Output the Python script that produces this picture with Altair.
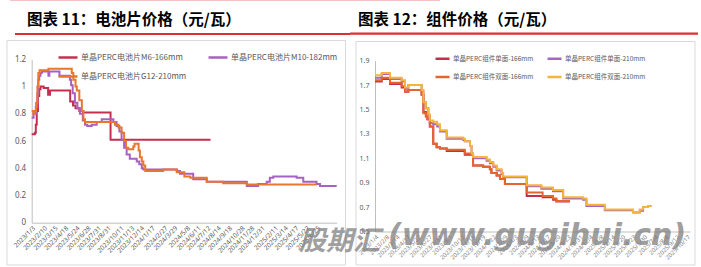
import altair as alt
import pandas as pd

# ---------------- text ----------------
title_left = "图表 11：电池片价格（元/瓦）"
title_right = "图表 12：组件价格（元/瓦）"
watermark_cn = "股期汇"
watermark_en = "(www.gugihui.cn)"

# ---------------- left chart: cell prices ----------------
cell_series = ["单晶PERC电池片M6-166mm", "单晶PERC电池片M10-182mm", "单晶PERC电池片G12-210mm"]
cell_colors = ["#C3304F", "#A860C4", "#E8762B"]

m6_dates = ["2023-01-03", "2023-01-13", "2023-01-16", "2023-01-19", "2023-01-23", "2023-01-27",
            "2023-01-31", "2023-02-10", "2023-02-24", "2023-03-02", "2023-05-05", "2023-05-14",
            "2023-05-22", "2023-06-03", "2023-06-15", "2023-09-10", "2024-07-23"]
m6_values = [0.65, 0.66, 0.72, 0.82, 0.93, 0.98, 1.00, 0.99, 0.94, 0.97, 0.89, 0.86,
             0.84, 0.82, 0.81, 0.61, 0.61]

m10_dates = ["2023-01-03", "2023-01-09", "2023-01-16", "2023-01-21", "2023-01-24", "2023-01-27",
             "2023-01-31", "2023-02-04", "2023-02-25", "2023-02-28", "2023-04-01", "2023-05-04",
             "2023-05-08", "2023-05-13", "2023-05-20", "2023-05-28", "2023-06-05", "2023-06-14",
             "2023-06-21", "2023-06-28", "2023-07-12", "2023-07-28", "2023-08-13", "2023-09-19",
             "2023-09-29", "2023-10-08", "2023-10-15", "2023-10-23", "2023-10-31", "2023-11-10",
             "2023-12-02", "2023-12-10", "2023-12-18", "2023-12-23", "2024-04-07", "2024-04-17",
             "2024-05-29", "2024-07-11", "2024-11-15", "2024-12-21", "2025-01-17", "2025-01-27",
             "2025-02-07", "2025-04-22", "2025-05-13", "2025-06-24", "2025-07-05", "2025-08-27"]
m10_values = [0.77, 0.80, 0.85, 0.95, 1.05, 1.08, 1.10, 1.11, 1.08, 1.11, 1.08, 1.05,
              1.01, 0.95, 0.88, 0.84, 0.80, 0.75, 0.72, 0.71, 0.72, 0.74, 0.76, 0.74,
              0.71, 0.67, 0.61, 0.55, 0.50, 0.47, 0.45, 0.43, 0.40, 0.39, 0.38, 0.36,
              0.32, 0.30, 0.27, 0.285, 0.30, 0.33, 0.34, 0.33, 0.30, 0.285, 0.27, 0.27]

g12_dates = ["2023-01-03", "2023-01-08", "2023-01-14", "2023-01-17", "2023-01-21", "2023-01-24",
             "2023-01-28", "2023-02-25", "2023-05-10", "2023-05-15", "2023-05-22", "2023-05-26",
             "2023-06-03", "2023-06-11", "2023-06-16", "2023-06-21", "2023-09-24", "2023-10-05",
             "2023-10-15", "2023-10-23", "2023-10-29", "2023-11-05", "2023-11-21", "2023-11-25",
             "2023-12-08", "2023-12-12", "2023-12-18", "2023-12-23", "2023-12-29", "2024-02-24",
             "2024-04-07", "2024-05-01", "2024-05-20", "2024-07-11", "2024-09-01", "2024-11-15",
             "2025-06-24"]
g12_values = [0.82, 0.80, 0.82, 0.88, 1.00, 1.10, 1.12, 1.13, 1.10, 1.05, 1.00, 0.97,
              0.90, 0.82, 0.76, 0.74, 0.72, 0.70, 0.66, 0.60, 0.55, 0.54, 0.56, 0.58,
              0.53, 0.48, 0.45, 0.42, 0.38, 0.39, 0.37, 0.34, 0.33, 0.30, 0.29, 0.28, 0.28]

left_ticks = ["2023-01-03", "2023-02-10", "2023-03-15", "2023-04-18", "2023-05-24", "2023-06-28",
              "2023-07-31", "2023-08-31", "2023-10-11", "2023-11-13", "2023-12-14", "2024-01-17",
              "2024-02-27", "2024-03-29", "2024-05-08", "2024-06-11", "2024-07-12", "2024-08-14",
              "2024-09-18", "2024-10-28", "2024-11-28", "2024-12-31", "2025-02-11", "2025-03-14",
              "2025-04-17", "2025-05-22", "2025-06-25"]
left_y_ticks = [0, 0.2, 0.4, 0.6, 0.8, 1.0, 1.2]

# ---------------- right chart: module prices ----------------
mod_series = ["单晶PERC组件单面-166mm", "单晶PERC组件单面-210mm", "单晶PERC组件双面-166mm", "单晶PERC组件双面-210mm"]
mod_colors = ["#C0304D", "#A566C4", "#E5652F", "#F5B43A"]

m166_dates = ["2023-01-04", "2023-01-26", "2023-02-22", "2023-04-01", "2023-04-12", "2023-04-23",
              "2023-06-05", "2023-06-11", "2023-06-19", "2023-06-24", "2023-07-02", "2023-07-13",
              "2023-07-24", "2023-08-04", "2023-08-26", "2023-10-24", "2023-11-20", "2023-12-23",
              "2024-01-14", "2024-01-19", "2024-02-05", "2024-02-16", "2024-03-03", "2024-05-13",
              "2024-07-04", "2024-08-07", "2024-08-18", "2024-10-01"]
s166_values = [1.73, 1.75, 1.71, 1.68, 1.645, 1.66, 1.62, 1.48, 1.45, 1.42, 1.36, 1.22,
               1.19, 1.18, 1.16, 1.13, 1.04, 1.03, 1.01, 0.98, 0.96, 0.93, 0.89, 0.79,
               0.78, 0.76, 0.745, 0.745]
d166_values = [1.74, 1.76, 1.72, 1.69, 1.65, 1.66, 1.62, 1.47, 1.44, 1.42, 1.36, 1.22,
               1.19, 1.18, 1.17, 1.14, 1.04, 1.03, 1.01, 0.98, 0.96, 0.93, 0.89, 0.82,
               0.79, 0.77, 0.75, 0.75]

m210_dates = ["2023-01-04", "2023-01-26", "2023-02-22", "2023-04-01", "2023-04-12", "2023-04-23",
              "2023-06-05", "2023-06-11", "2023-06-19", "2023-06-27", "2023-07-02", "2023-07-13",
              "2023-07-26", "2023-08-04", "2023-08-26", "2023-10-19", "2023-10-24", "2023-11-10",
              "2023-11-15", "2023-11-20", "2024-01-03", "2024-01-14", "2024-01-25", "2024-02-05",
              "2024-02-21", "2024-02-26", "2024-05-13", "2024-06-30", "2024-08-07", "2024-09-09",
              "2024-11-13", "2024-11-24", "2025-01-23", "2025-04-25", "2025-05-17", "2025-05-28",
              "2025-06-13", "2025-06-24"]
s210_values = [1.76, 1.79, 1.75, 1.73, 1.67, 1.70, 1.65, 1.56, 1.51, 1.45, 1.39, 1.38,
               1.36, 1.32, 1.26, 1.25, 1.24, 1.20, 1.13, 1.10, 1.08, 1.06, 1.03, 1.00,
               0.97, 0.945, 0.87, 0.85, 0.83, 0.77, 0.76, 0.71, 0.675, 0.655, 0.67, 0.70,
               0.71, 0.71]
d210_values = [1.78, 1.80, 1.76, 1.74, 1.68, 1.70, 1.66, 1.56, 1.51, 1.46, 1.41, 1.40,
               1.38, 1.33, 1.27, 1.26, 1.24, 1.20, 1.14, 1.11, 1.09, 1.07, 1.04, 1.01,
               0.98, 0.95, 0.88, 0.86, 0.84, 0.78, 0.77, 0.72, 0.68, 0.66, 0.68, 0.70,
               0.71, 0.71]

right_ticks = ["2023-01-04", "2023-02-08", "2023-03-14", "2023-04-17", "2023-05-22", "2023-06-27",
               "2023-07-31", "2023-09-01", "2023-10-12", "2023-11-15", "2023-12-19", "2024-01-22",
               "2024-02-29", "2024-04-03", "2024-05-09", "2024-06-13", "2024-07-17", "2024-08-20",
               "2024-09-23", "2024-10-31", "2024-12-04", "2025-01-08", "2025-02-14", "2025-03-20",
               "2025-04-23", "2025-05-30", "2025-07-04", "2025-08-08", "2025-09-12", "2025-10-17"]
right_y_ticks = [0.5, 0.7, 0.9, 1.1, 1.3, 1.5, 1.7, 1.9]


def dt(s):
    y, m, d = (int(p) for p in s.split("-"))
    return alt.DateTime(year=y, month=m, date=d, utc=True)


def frame(name, dates, values):
    return pd.DataFrame({"series": name, "date": dates, "value": values})


left_df = pd.concat([
    frame(cell_series[0], m6_dates, m6_values),
    frame(cell_series[1], m10_dates, m10_values),
    frame(cell_series[2], g12_dates, g12_values),
])
right_df = pd.concat([
    frame(mod_series[0], m166_dates, s166_values),
    frame(mod_series[1], m210_dates, s210_values),
    frame(mod_series[2], m166_dates, d166_values),
    frame(mod_series[3], m210_dates, d210_values),
])

W, H = 701, 267
AX = "#BFBFBF"
LAB = "#595959"
FONT = "Noto Sans CJK SC"
date_fmt = "utcFormat(datum.value, '%Y/%-m/%-d')"

left_lines = alt.Chart(left_df).mark_line(interpolate="step-after", strokeWidth=2).encode(
    x=alt.X("date:T",
            scale=alt.Scale(type="utc", domain=[dt("2023-01-03"), dt("2025-08-27")],
                            range=[31.7, 336.7], nice=False),
            axis=alt.Axis(orient="bottom", offset=-(H - 222.7), values=[dt(v) for v in left_ticks],
                          labelExpr=date_fmt, labelAngle=-45, labelAlign="right", labelBaseline="top",
                          labelFontSize=6.5, labelColor=LAB, labelFont="Noto Sans", labelPadding=2,
                          labelOverlap=False, labelFlush=False, labelBound=False,
                          ticks=False, grid=False, domainColor=AX, title=None)),
    y=alt.Y("value:Q",
            scale=alt.Scale(domain=[0, 1.2], range=[222.7, 59.3], nice=False, zero=False),
            axis=alt.Axis(orient="left", offset=-31.7, values=left_y_ticks, format="~g",
                          labelFontSize=8, labelColor=LAB, labelFont="Noto Sans", labelPadding=6,
                          ticks=False, grid=False, domainColor=AX, title=None)),
    color=alt.Color("series:N",
                    scale=alt.Scale(domain=cell_series, range=cell_colors),
                    legend=alt.Legend(title=None, orient="none", legendX=57, legendY=46.5, columns=2,
                                      direction="horizontal",
                                      symbolType="stroke", symbolSize=361, symbolStrokeWidth=2.5,
                                      labelFontSize=8, labelColor=LAB, labelFont=FONT,
                                      labelOffset=2, columnPadding=16, rowPadding=3, padding=0,
                                      labelLimit=300)),
)

right_lines = alt.Chart(right_df).mark_line(interpolate="step-after", strokeWidth=2).encode(
    x=alt.X("date:T",
            scale=alt.Scale(type="utc", domain=[dt("2023-01-04"), dt("2025-10-28")],
                            range=[375, 690], nice=False),
            axis=alt.Axis(orient="bottom", offset=-(H - 231.5), values=[dt(v) for v in right_ticks],
                          labelExpr=date_fmt, labelAngle=-45, labelAlign="right", labelBaseline="top",
                          labelFontSize=6, labelColor="#7F7F7F", labelFont="Noto Sans", labelPadding=2,
                          labelOverlap=False, labelFlush=False, labelBound=False,
                          ticks=False, grid=False, domainColor=AX, title=None)),
    y=alt.Y("value:Q",
            scale=alt.Scale(domain=[0.5, 1.9], range=[231.5, 60.7], nice=False, zero=False),
            axis=alt.Axis(orient="left", offset=-375, values=right_y_ticks, format=".1f",
                          labelFontSize=7, labelColor=LAB, labelFont="Noto Sans", labelPadding=6,
                          ticks=False, grid=False, domainColor=AX, title=None)),
    color=alt.Color("series:N",
                    scale=alt.Scale(domain=mod_series, range=mod_colors),
                    legend=alt.Legend(title=None, orient="none", legendX=434, legendY=50, columns=2,
                                      direction="horizontal",
                                      symbolType="stroke", symbolSize=196, symbolStrokeWidth=2.5,
                                      labelFontSize=6.5, labelColor=LAB, labelFont=FONT,
                                      labelOffset=2, columnPadding=8, rowPadding=4.5, padding=0,
                                      labelLimit=300)),
)

deco = alt.InlineData(values=[{"k": 0}])


def rule(x1, x2, y, color, width):
    return alt.Chart(deco).mark_rule(color=color, strokeWidth=width).encode(
        x=alt.value(x1), x2=alt.value(x2), y=alt.value(y))


def box(x1, x2, y1, y2):
    return alt.Chart(deco).mark_rect(fillOpacity=0, stroke="#D9D9D9", strokeWidth=1).encode(
        x=alt.value(x1), x2=alt.value(x2), y=alt.value(y1), y2=alt.value(y2))


def label(txt, x, y, size, **kw):
    return alt.Chart(deco).mark_text(align="left", baseline="alphabetic", fontSize=size, **kw).encode(
        x=alt.value(x), y=alt.value(y), text=alt.value(txt))


layers = [
    rule(10, 440, 0.5, "#F2C4C4", 1),
    box(7, 345.5, 40.5, 265),
    box(356, 695, 41.5, 265),
    rule(15, 350, 34, "#D9312F", 2.2),
    rule(350, 698, 33.7, "#D9312F", 2.2),
    label(title_left, 27, 25, 15.5, font=FONT, fontWeight="bold", color="#000000"),
    label(title_right, 358, 25, 15.5, font=FONT, fontWeight="bold", color="#000000"),
    left_lines,
    right_lines,
    label(watermark_cn, 299, 250, 27, font=FONT, fontWeight="bold", fontStyle="italic",
          color="#808080", opacity=0.75),
    label(watermark_en, 388, 245, 30, font="DejaVu Sans", fontWeight="bold", fontStyle="italic",
          color="#808080", opacity=0.75),
]

chart = alt.layer(*layers).resolve_scale(
    x="independent", y="independent", color="independent"
).properties(width=W, height=H, padding=0, background="white").configure_view(strokeWidth=0)

chart.save("out.html", embed_options={"renderer": "svg", "actions": False})
